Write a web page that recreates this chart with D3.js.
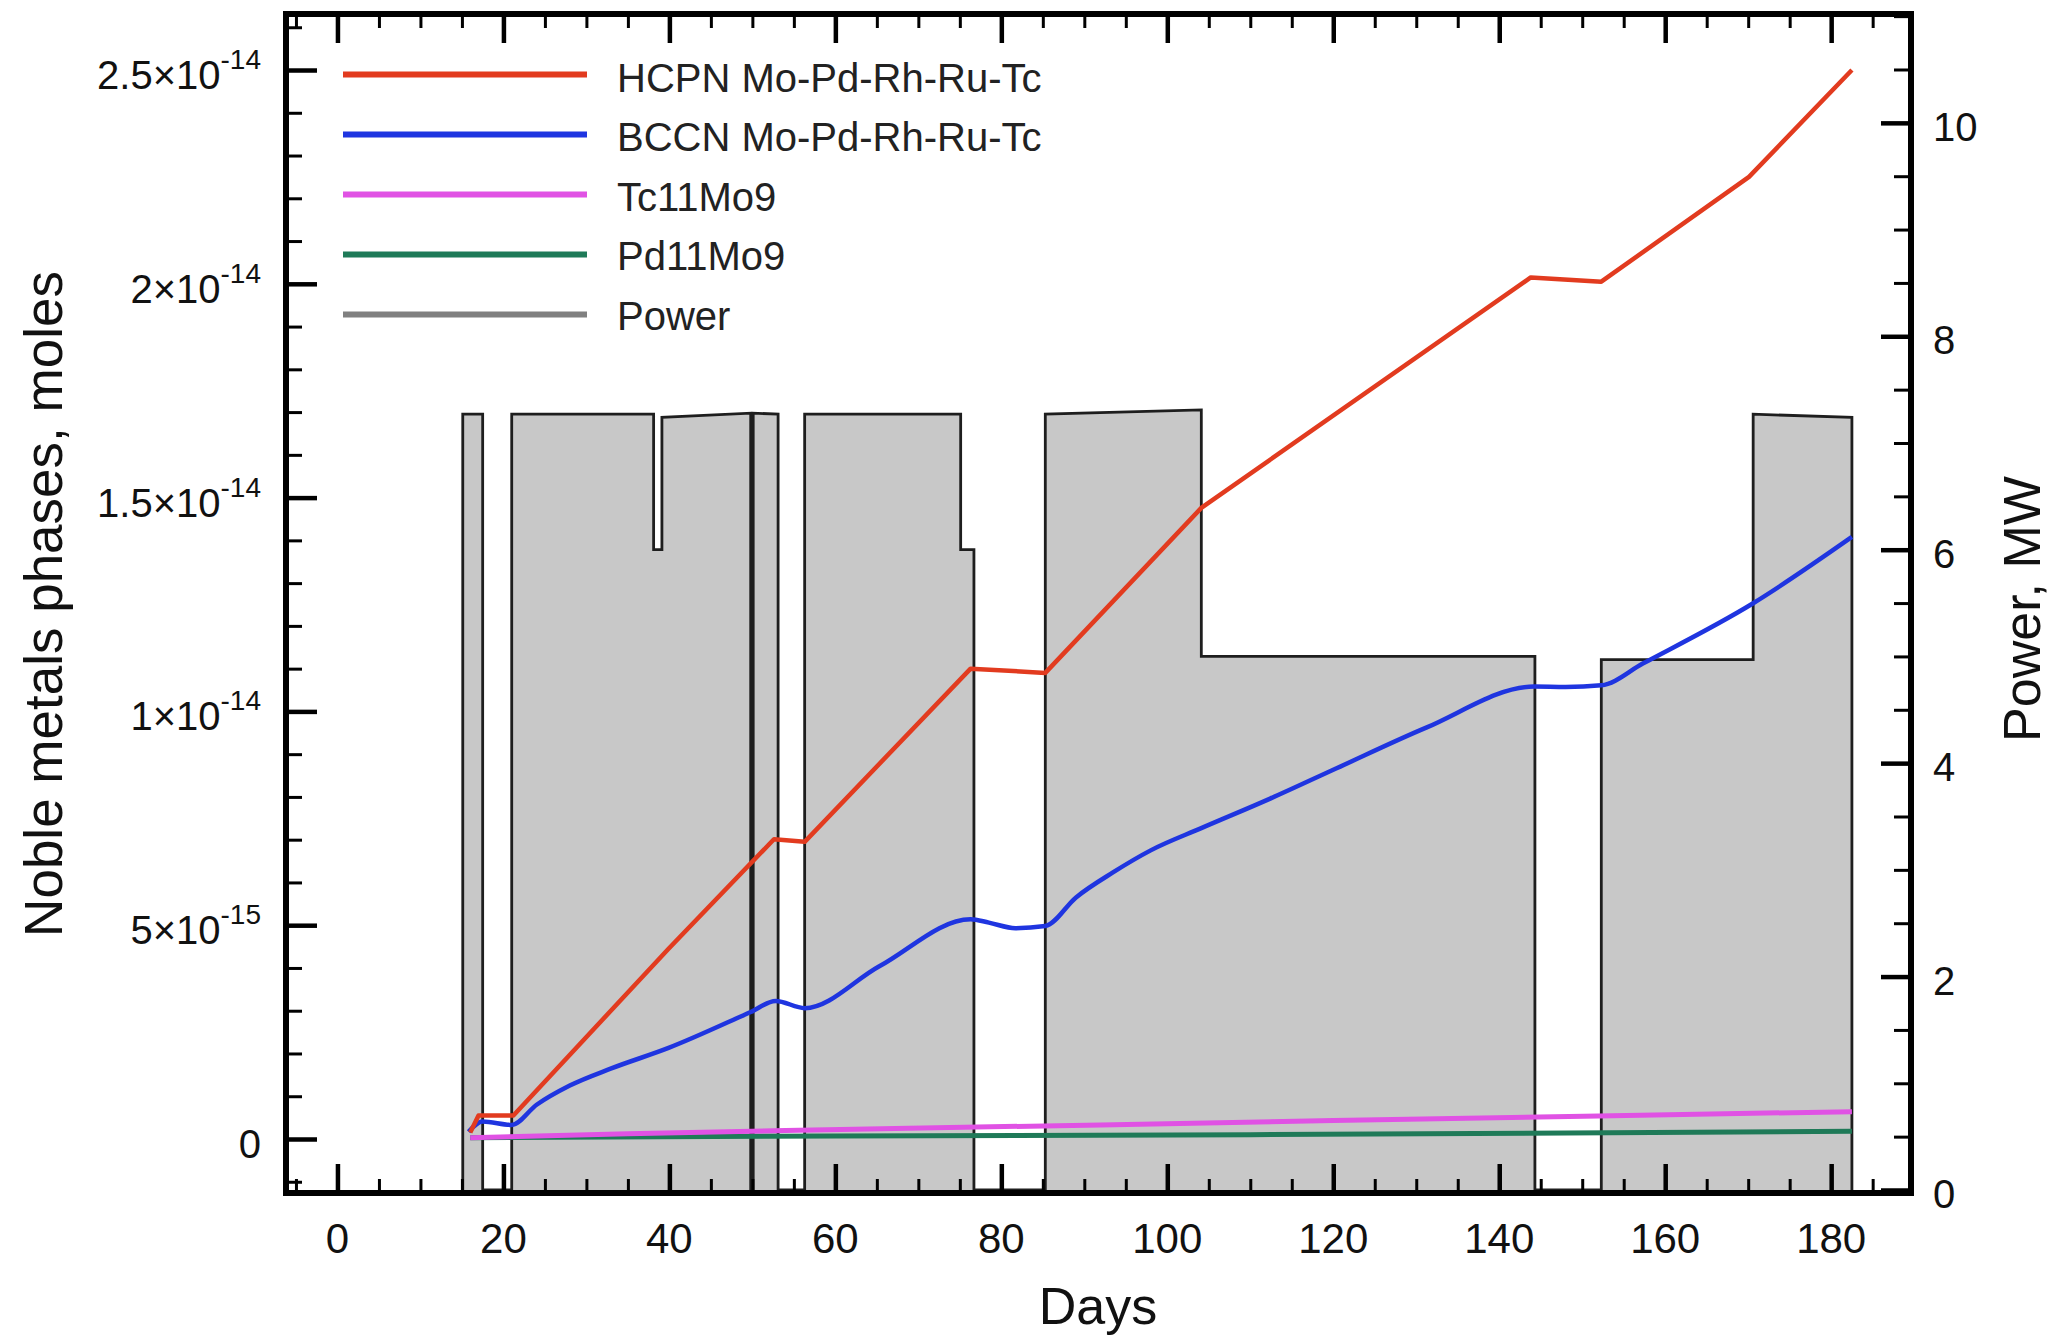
<!DOCTYPE html>
<html><head><meta charset="utf-8">
<script src="https://cdn.jsdelivr.net/npm/d3@7"></script>
<style>
body{margin:0;background:#fff}
svg{display:block}
text{font-family:"Liberation Sans",Arial,Helvetica,sans-serif;fill:#111}
</style>
</head><body>
<svg id="chart" width="2055" height="1339"></svg>
<script>
// ---------- data ----------
const UNIT = 1e-15; // series values below are in units of 1e-15 moles

const powerDays = [15.1,15.1,17.5,17.5,21.0,21.0,38.1,38.1,39.1,39.1,49.8,49.8,50.1,50.1,53.1,53.1,56.3,56.3,75.1,75.1,76.7,76.7,85.3,85.3,104.1,104.1,144.3,144.3,152.3,152.3,170.6,170.6,182.5,182.5];
const powerMW   = [0,7.27,7.27,0,0,7.27,7.27,6.0,6.0,7.24,7.28,0,0,7.28,7.27,0,0,7.27,7.27,6.0,6.0,0,0,7.27,7.31,5.0,5.0,0,0,4.97,4.97,7.27,7.24,0];

const hcpnDays = [16.0,17.0,21.2,39.9,52.6,56.3,76.3,85.3,104.1,143.8,152.3,170.1,182.5];
const hcpnVal  = [0.15,0.55,0.55,4.45,7.01,6.95,11.0,10.9,14.76,20.15,20.05,22.5,25.0];

const bccnDays = [15.8,17.5,21.0,24.0,28.0,33.0,39.9,49.8,52.8,56.3,65.3,76.3,78.5,81.7,85.3,89.0,93.5,98.0,104.1,112.4,120.4,131.2,144.2,148.0,152.3,157.3,170.6,182.5];
const bccnVal  = [0.17,0.41,0.33,0.80,1.25,1.65,2.13,2.97,3.23,3.06,4.04,5.14,5.06,4.93,4.98,5.65,6.24,6.75,7.27,7.96,8.67,9.62,10.58,10.57,10.61,11.12,12.53,14.08];

const tcDays = [16.0,35.0,54.0,92.0,120.0,152.0,182.5];
const tcVal  = [0.03,0.12,0.20,0.33,0.43,0.54,0.64];

const pdDays = [16.0,60.0,110.0,182.5];
const pdVal  = [0.03,0.07,0.10,0.18];

const xTickLabels = [0,20,40,60,80,100,120,140,160,180];
const yLeftTicks  = [0,5e-15,1e-14,1.5e-14,2e-14,2.5e-14];
const yRightTicks = [0,2,4,6,8,10];

const legendNames  = ["HCPN Mo-Pd-Rh-Ru-Tc","BCCN Mo-Pd-Rh-Ru-Tc","Tc11Mo9","Pd11Mo9","Power"];
const legendColors = ["#e23b1f","#1f35e0","#e052e4","#1f7a58","#808080"];

// ---------- layout ----------
const L = 286, R = 1911, T = 14, B = 1193;
const svg = d3.select("#chart");

const x  = d3.scaleLinear().domain([-6.2, 189.62]).range([L, R]);
const yL = d3.scaleLinear().domain([-1.263e-15, 26.31e-15]).range([B, T]);
const yR = d3.scaleLinear().domain([0, 11.02]).range([1190, T]);

// ---------- power area ----------
const powerPts = powerDays.map((d,i)=>[d, powerMW[i]]);
svg.append("path")
  .attr("d", d3.area().x(d=>x(d[0])).y0(yR(0)).y1(d=>yR(d[1]))(powerPts))
  .attr("fill", "#c8c8c8");
svg.append("path")
  .attr("d", d3.line().x(d=>x(d[0])).y(d=>yR(d[1]))(powerPts))
  .attr("fill", "none").attr("stroke", "#1e1e1e").attr("stroke-width", 2.8);

// ---------- series ----------
function drawSeries(days, vals, color, w, curve){
  const pts = days.map((d,i)=>[d, vals[i]*UNIT]);
  svg.append("path")
    .attr("d", d3.line().curve(curve || d3.curveLinear).x(d=>x(d[0])).y(d=>yL(d[1]))(pts))
    .attr("fill","none").attr("stroke",color).attr("stroke-width",w)
    .attr("stroke-linejoin","round").attr("stroke-linecap","butt");
}
drawSeries(pdDays, pdVal, legendColors[3], 5);
drawSeries(tcDays, tcVal, legendColors[2], 5);
drawSeries(bccnDays, bccnVal, legendColors[1], 4.5, d3.curveMonotoneX);
drawSeries(hcpnDays, hcpnVal, legendColors[0], 4.5);

// ---------- axes / ticks ----------
function styleTicks(g, w){
  g.select(".domain").remove();
  g.selectAll(".tick line").attr("stroke","#000").attr("stroke-width",w);
  g.selectAll(".tick text").remove();
}
const xMinor = d3.range(-5, 190, 5).filter(v=>v%20!==0);
svg.append("g").attr("transform",`translate(0,${B})`)
  .call(d3.axisBottom(x).tickValues(xTickLabels).tickSize(-29).tickFormat("")).call(g=>styleTicks(g,4.5));
svg.append("g").attr("transform",`translate(0,${B})`)
  .call(d3.axisBottom(x).tickValues(xMinor).tickSize(-14).tickFormat("")).call(g=>styleTicks(g,3));
svg.append("g").attr("transform",`translate(0,${T})`)
  .call(d3.axisTop(x).tickValues(xTickLabels).tickSize(-29).tickFormat("")).call(g=>styleTicks(g,4.5));
svg.append("g").attr("transform",`translate(0,${T})`)
  .call(d3.axisTop(x).tickValues(xMinor).tickSize(-14).tickFormat("")).call(g=>styleTicks(g,3));

const yLMinor = d3.range(-1, 27, 1).filter(v=>v%5!==0).map(v=>v*UNIT);
svg.append("g").attr("transform",`translate(${L},0)`)
  .call(d3.axisLeft(yL).tickValues(yLeftTicks).tickSize(-31).tickFormat("")).call(g=>styleTicks(g,4.5));
svg.append("g").attr("transform",`translate(${L},0)`)
  .call(d3.axisLeft(yL).tickValues(yLMinor).tickSize(-16).tickFormat("")).call(g=>styleTicks(g,3));

const yRMinor = d3.range(0.5, 11.01, 0.5).filter(v=>Math.abs(v%2)>1e-9);
svg.append("g").attr("transform",`translate(${R},0)`)
  .call(d3.axisRight(yR).tickValues(yRightTicks).tickSize(-30).tickFormat("")).call(g=>styleTicks(g,4.5));
svg.append("g").attr("transform",`translate(${R},0)`)
  .call(d3.axisRight(yR).tickValues(yRMinor).tickSize(-17).tickFormat("")).call(g=>styleTicks(g,3));

// frame
svg.append("rect").attr("x",L).attr("y",T).attr("width",R-L).attr("height",B-T)
  .attr("fill","none").attr("stroke","#000").attr("stroke-width",6);

// ---------- tick labels ----------
svg.selectAll("text.xl").data(xTickLabels).join("text")
  .attr("class","xl").attr("x",d=>x(d)).attr("y",1253)
  .attr("text-anchor","middle").style("font-size","42px").text(d=>d);

const yl = svg.selectAll("text.yl").data(yLeftTicks).join("text")
  .attr("class","yl").attr("x",261).attr("y",d=>yL(d)+19)
  .attr("text-anchor","end").style("font-size","40px");
yl.each(function(v){
  const t = d3.select(this);
  if (v === 0) { t.text("0"); return; }
  const e = Math.floor(Math.log10(v) + 1e-9);
  const m = +(v / Math.pow(10, e)).toFixed(2);
  t.append("tspan").text(m + "\u00d710");
  t.append("tspan").attr("dy",-20).style("font-size","28px").text("-" + Math.abs(e));
});

svg.selectAll("text.yr").data(yRightTicks).join("text")
  .attr("class","yr").attr("x",1933).attr("y",d=>yR(d)+18)
  .attr("text-anchor","start").style("font-size","40px").text(d=>d);

// ---------- axis titles ----------
svg.append("text").attr("x",1098).attr("y",1324).attr("text-anchor","middle")
  .style("font-size","52px").text("Days");
svg.append("text").attr("transform","translate(62,604) rotate(-90)").attr("text-anchor","middle")
  .style("font-size","53px").text("Noble metals phases, moles");
svg.append("text").attr("transform","translate(2040,609) rotate(-90)").attr("text-anchor","middle")
  .style("font-size","52px").text("Power, MW");

// ---------- legend ----------
const lg = svg.append("g");
legendNames.forEach((name,i)=>{
  lg.append("line").attr("x1",343).attr("x2",587)
    .attr("y1",74.5+60*i).attr("y2",74.5+60*i)
    .attr("stroke",legendColors[i]).attr("stroke-width",6);
  lg.append("text").attr("x",617).attr("y",91.5+59.6*i)
    .style("font-size","40px").style("fill","#222").text(name);
});
</script>
</body></html>
